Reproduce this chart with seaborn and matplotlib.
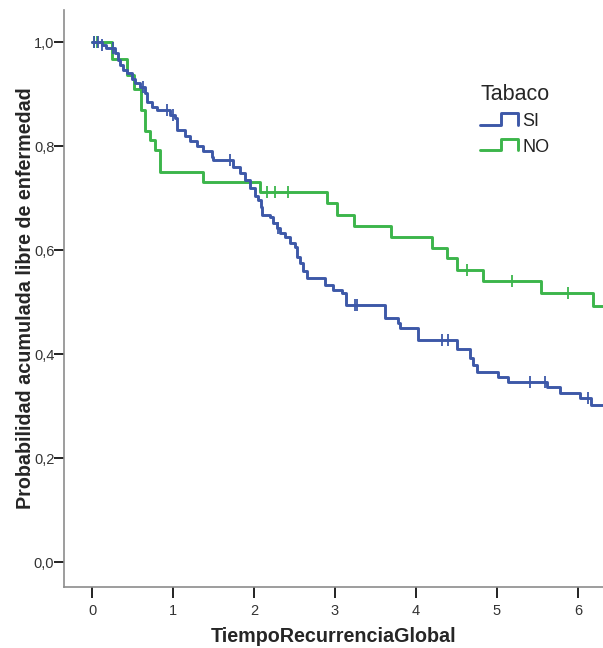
import numpy as np
import pandas as pd
import matplotlib
matplotlib.use("Agg")
import matplotlib.pyplot as plt
from matplotlib.legend_handler import HandlerBase
from matplotlib.lines import Line2D
import seaborn as sns

# Kaplan-Meier estimates by smoking status (Tabaco)
si_event_times = [0.12, 0.17, 0.28, 0.32, 0.35, 0.38, 0.43, 0.49, 0.53, 0.59,
                  0.65, 0.68, 0.74, 0.80, 0.96, 1.02, 1.05, 1.15, 1.21, 1.30,
                  1.37, 1.48, 1.50, 1.74, 1.83, 1.89, 1.95, 2.01, 2.05, 2.09,
                  2.10, 2.20, 2.24, 2.28, 2.32, 2.38, 2.44, 2.51, 2.53, 2.57,
                  2.60, 2.65, 2.88, 2.98, 3.09, 3.14, 3.62, 3.78, 3.80, 4.02,
                  4.51, 4.67, 4.70, 4.75, 5.01, 5.14, 5.62, 5.78, 6.02, 6.16]
si_surv = [0.994, 0.988, 0.979, 0.965, 0.956, 0.946, 0.940, 0.930, 0.921, 0.913,
           0.902, 0.885, 0.875, 0.869, 0.860, 0.854, 0.831, 0.820, 0.810, 0.800,
           0.790, 0.780, 0.773, 0.760, 0.748, 0.735, 0.720, 0.705, 0.696, 0.683,
           0.667, 0.664, 0.652, 0.642, 0.633, 0.625, 0.613, 0.606, 0.587, 0.575,
           0.560, 0.546, 0.533, 0.523, 0.517, 0.494, 0.469, 0.460, 0.450, 0.427,
           0.410, 0.392, 0.380, 0.366, 0.356, 0.346, 0.337, 0.325, 0.315, 0.302]
si_censored = [0.03, 0.08, 0.12, 0.26, 0.63, 0.93, 1.00, 1.70, 2.30,
               3.25, 3.27, 4.32, 4.40, 5.41, 5.59, 6.12]
si_last_followup = 6.45

no_event_times = [0.25, 0.43, 0.52, 0.60, 0.65, 0.72, 0.78, 0.84, 1.37, 2.07,
                  2.90, 3.02, 3.23, 3.69, 4.20, 4.38, 4.51, 4.83, 5.54, 6.19]
no_surv = [0.967, 0.937, 0.910, 0.869, 0.830, 0.812, 0.792, 0.750, 0.731, 0.712,
           0.690, 0.667, 0.646, 0.625, 0.604, 0.585, 0.562, 0.540, 0.517, 0.492]
no_censored = [0.02, 0.06, 2.16, 2.26, 2.42, 4.63, 5.19, 5.88]
no_last_followup = 6.45

groups = ["SI", "NO"]
colors = {"SI": "#3d58a8", "NO": "#3cb54b"}


def step_frame(name, times, surv, last):
    t = [0.0] + list(times) + [last]
    s = [1.0] + list(surv) + [surv[-1]]
    return pd.DataFrame({"tiempo": t, "prob": s, "Tabaco": name})


def censor_frame(name, times, surv, cens):
    t_arr = np.asarray(times)
    s_arr = np.asarray([1.0] + list(surv))
    idx = np.searchsorted(t_arr, np.asarray(cens), side="right")
    return pd.DataFrame({"tiempo": cens, "prob": s_arr[idx], "Tabaco": name})


curves = pd.concat([
    step_frame("SI", si_event_times, si_surv, si_last_followup),
    step_frame("NO", no_event_times, no_surv, no_last_followup),
], ignore_index=True)
marks = pd.concat([
    censor_frame("SI", si_event_times, si_surv, si_censored),
    censor_frame("NO", no_event_times, no_surv, no_censored),
], ignore_index=True)

sns.set_style("ticks")
plt.rcParams["font.family"] = ["Liberation Sans", "DejaVu Sans"]

fig = plt.figure(figsize=(6.03, 6.48), dpi=100)
ax = fig.add_axes([64 / 603, 1 - 587 / 648, (603 - 64) / 603, (587 - 10) / 648])

# draw NO first so SI sits on top where they overlap
for g in ["NO", "SI"]:
    sns.lineplot(data=curves[curves["Tabaco"] == g], x="tiempo", y="prob",
                 drawstyle="steps-post", color=colors[g], linewidth=2.1,
                 estimator=None, sort=False, ax=ax, legend=False)
    sub = marks[marks["Tabaco"] == g]
    ax.plot(sub["tiempo"], sub["prob"], linestyle="none", marker="|",
            markersize=8, markeredgewidth=1.3, color=colors[g])

ax.set_xlim(-0.346, 6.31)
ax.set_ylim(-0.048, 1.062)
ax.set_xticks(range(0, 7))
ax.set_yticks([0.0, 0.2, 0.4, 0.6, 0.8, 1.0])
ax.set_yticklabels(["0,0", "0,2", "0,4", "0,6", "0,8", "1,0"])

for side in ["top", "right"]:
    ax.spines[side].set_visible(False)
for side in ["left", "bottom"]:
    ax.spines[side].set_color("#8c8c8c")
    ax.spines[side].set_linewidth(1.2)
ax.tick_params(axis="y", length=7, width=1.4, color="#222222", labelsize=10.5,
               labelcolor="#333333", pad=0)
ax.tick_params(axis="x", length=8, width=1.4, color="#222222", labelsize=10.5,
               labelcolor="#333333", pad=4)

ax.set_xlabel("TiempoRecurrenciaGlobal", fontsize=14.2, fontweight="bold", labelpad=7)
ax.set_ylabel("Probabilidad acumulada libre de enfermedad", fontsize=14.2,
              fontweight="bold", labelpad=-1)


class StepHandler(HandlerBase):
    def create_artists(self, legend, orig_handle, xdescent, ydescent, width,
                       height, fontsize, trans):
        lo = -ydescent + 0.1 * height
        hi = -ydescent + 1.0 * height
        x0 = -xdescent
        xs = [x0, x0 + 0.55 * width, x0 + 0.55 * width, x0 + width, x0 + width]
        ys = [lo, lo, hi, hi, lo]
        line = Line2D(xs, ys, color=orig_handle.get_color(), linewidth=2.1,
                      transform=trans)
        return [line]


handles = [Line2D([], [], color=colors[g]) for g in groups]
leg = fig.legend(handles, groups, title="Tabaco", loc="upper left",
                 bbox_to_anchor=(464 / 603, 1 - 68 / 648), frameon=False,
                 handler_map={Line2D: StepHandler()}, handlelength=2.1,
                 handleheight=0.75, handletextpad=0.25, labelspacing=0.45,
                 fontsize=13, title_fontsize=15.5, alignment="left")
for t in leg.get_texts():
    t.set_color("#222222")

fig.savefig("out.png", dpi=100)
